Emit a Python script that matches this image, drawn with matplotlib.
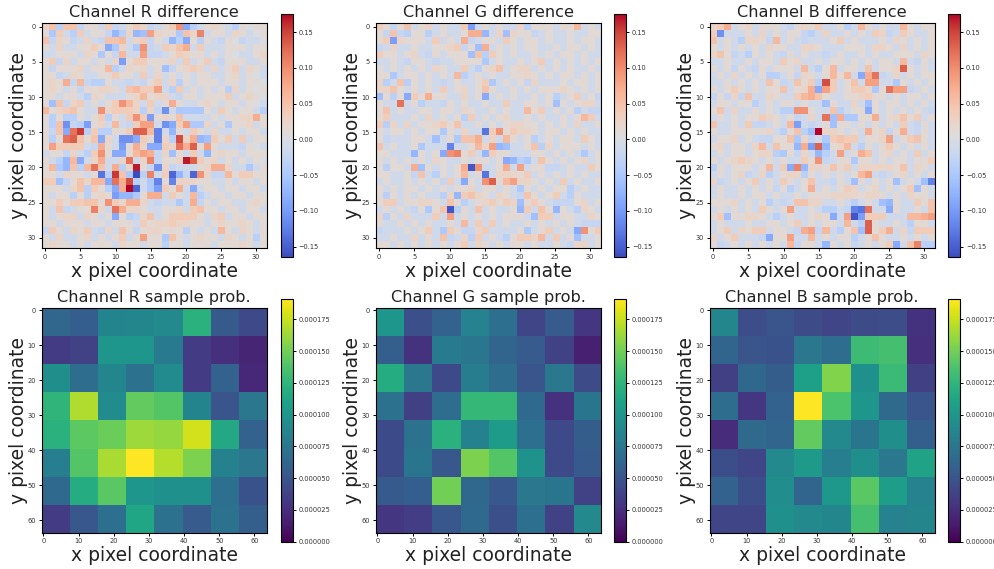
import numpy as np
import matplotlib
matplotlib.use("Agg")
import matplotlib.pyplot as plt
from matplotlib.ticker import FormatStrFormatter, MultipleLocator

# difference maps, in units of 0.012, read cell by cell
diff_r = [
    [2, 4, -3, 4, 4, -2, 1, 1, -1, 3, -2, -1, 1, 3, 2, -2, -1, 1, 3, 8, -7, -3, -1, 1, 2, 1, -1, -3, 1, 0, 1, 1],
    [1, -4, 3, -1, -3, 3, -1, 1, 1, -2, -6, -3, 2, -6, -5, 7, 2, 1, 1, -4, 4, 2, 9, -1, 1, 1, -1, 2, 1, -1, 0, 1],
    [4, -2, 2, 1, -2, -1, 2, -1, -2, 4, 4, 5, -1, 2, 3, -2, 1, -1, -6, -3, -7, 1, -3, 1, -1, -2, 1, 0, -2, -1, -1, 0],
    [1, -1, 2, -1, -1, 1, 1, 3, 1, -7, -4, 2, -1, -4, 8, -2, -1, 3, 2, 4, 6, -1, 3, -1, -1, -1, 1, 1, 1, -1, 1, 1],
    [-1, -1, 1, 1, 1, -1, 2, 1, -4, 1, -2, 5, -1, -1, 7, -2, -2, -1, 1, 3, 2, 1, 1, -1, 1, -1, 1, 0, -1, -1, 1, 2],
    [1, 3, -2, 2, -1, 1, 1, -1, 1, -1, 2, -8, 1, 3, 3, 1, 1, 1, 2, -1, 3, -1, 1, 3, -1, -2, 1, 1, 1, -1, -1, 1],
    [1, -2, 1, 1, 1, 2, -1, 1, 1, 5, -3, -1, 2, 1, 2, -1, 1, -5, -2, 1, 2, 3, 2, -1, 2, -1, 1, 3, -1, 2, 1, -1],
    [1, 1, -2, -1, 2, 1, -1, -1, 1, 1, 3, 1, 1, -1, 3, -1, 2, -1, 1, -1, 1, -1, 1, 1, -1, -1, 1, 2, -1, 1, 0, -1],
    [1, 2, 1, 6, -2, 5, -2, -3, -3, 1, -1, -1, -2, -1, -2, 1, 3, -1, 2, -3, 1, -1, 1, 1, 1, -1, 1, 1, -1, 1, 1, 0],
    [1, 2, 1, -1, 1, -2, 1, 1, 2, 2, 1, -1, 4, 5, 3, 3, 7, -1, -3, 3, -1, 1, -1, 1, -1, 1, -3, 2, -1, 1, 0, 1],
    [1, 1, -1, 1, 1, -1, -3, 2, 1, -1, -1, -1, 1, 2, 5, 1, 2, 2, -1, -2, 1, 1, -1, 1, 1, 1, 3, -1, 1, 2, 1, 0],
    [1, -5, 4, -2, 2, 3, -1, 1, -1, 1, 3, 8, 5, 2, -1, 3, -1, 1, 6, 1, -1, -1, 1, 2, 1, -1, 1, 1, -1, 1, 0, -1],
    [5, 1, 2, 3, 4, 1, -1, -1, 8, 2, 3, 3, 3, 2, -3, 2, -2, -9, -1, -4, -4, -4, -4, 1, -1, 3, 1, -1, 1, 1, -1, -3],
    [1, -3, 1, -3, -3, 1, -1, 1, 3, -3, 1, -1, 3, 8, 3, -8, 1, 2, 1, 4, -1, -1, -1, -1, 1, -1, 1, 1, 2, 2, 6, 1],
    [1, -3, 4, -9, -2, -3, -8, 1, 2, -1, 5, -1, -2, 3, 7, 7, -1, -9, -7, 3, 7, -4, -4, 2, -1, 1, -4, 1, 1, 2, -1, 1],
    [1, -2, 4, -7, 10, 13, -3, 3, -3, -3, 1, 1, 3, 11, 11, 5, -10, -1, -6, 1, -1, 3, 1, -1, 2, -1, -1, 1, -1, 1, 1, -1],
    [1, -3, 1, 10, 11, 4, 1, 4, -7, 2, -1, -9, -9, -7, 3, 1, -10, 2, -3, 12, 2, 6, -6, -5, 3, 1, 3, -1, 3, -1, 1, 1],
    [1, 7, 3, 3, 3, 3, -1, -2, 6, 1, -1, -8, 1, 6, 2, -7, -7, 3, 2, 10, 6, 11, 1, 7, 1, -1, -1, -1, -2, 1, 0, -1],
    [-1, 1, 1, -2, 2, -1, -3, 3, 8, 1, -7, -7, 1, 5, 7, 6, -2, 2, -5, 1, -1, 3, -1, -6, 1, 2, 1, 1, -1, 1, 1, 1],
    [1, -1, -3, -6, 5, -7, -1, 2, 6, -1, -1, 2, 10, -1, 2, 9, -2, 1, 1, 2, 14, 11, 3, 1, 2, -1, 1, -1, 1, -1, 1, 0],
    [1, 5, -4, -6, 4, -3, 5, 10, 4, -1, 6, -3, 2, 14, 1, -2, -9, 2, -2, -1, -1, -1, 1, 2, 6, 6, 2, -1, -1, -4, -1, 1],
    [1, 1, -1, 2, 1, 1, -1, 1, -11, -3, 13, 4, -4, -14, -3, 9, -1, 3, -12, -6, -2, -12, 8, 2, -2, -2, 5, 1, 3, 3, 1, 1],
    [3, 3, -5, -2, 1, 4, 2, 5, 5, -7, 10, 6, 12, -3, -1, -4, -10, 1, -10, 2, 2, 2, 1, 1, -1, -1, 1, -1, 1, 1, -1, 1],
    [1, 1, 1, -1, 2, 4, -3, 3, 1, -3, -7, 6, 15, -12, -1, -4, -8, 3, 1, 6, -1, -7, -1, 1, 1, -1, 1, 1, -1, 1, 1, -1],
    [1, -1, 1, 1, -3, 1, -3, 1, 2, 1, -8, -6, -6, -4, 1, 6, 6, -1, 3, 1, -1, 5, -3, -1, 1, 1, -1, 1, 1, -1, 1, 1],
    [1, 1, 3, 1, 3, 3, 4, 4, 1, 8, 3, 2, 6, 6, 2, -1, -2, -1, -1, -4, -1, 6, -2, 1, -1, 1, 1, -1, -1, 1, 2, 1],
    [1, -1, 4, -2, -1, 1, 1, 9, 2, -1, 10, 6, 2, 2, 1, -1, -1, 1, 1, 2, -1, 3, 4, 1, 1, -1, 1, 1, -1, 1, 1, -1],
    [1, -1, 1, 2, 2, -1, 2, 1, -1, 1, -7, 1, -3, -2, 2, 4, -1, 1, 3, 3, 3, 3, 1, -1, 2, 3, -1, 1, 1, -1, 1, 1],
    [1, 1, -1, 1, 1, 1, -1, 1, 1, -1, 1, 1, 1, -1, 3, 1, 2, 2, 3, 2, 2, 1, 1, -1, 1, 2, 1, 1, 2, 1, -1, 1],
    [-2, 3, 1, -1, 2, 1, 3, -1, -2, 2, -1, 4, 1, -2, 1, 2, 2, 1, 1, 1, -3, 1, -1, 1, -1, 5, 1, -1, 2, 1, -1, 1],
    [1, -1, 2, -1, -1, 1, 2, -1, 1, -1, 1, 3, -1, 1, 7, 1, 1, -4, 4, 1, -1, 1, 2, 1, 1, -1, 2, 1, -1, 1, -3, 1],
    [1, 2, 1, 1, -1, 1, -1, 1, 1, 1, -1, 2, 1, 1, -1, 1, 1, -3, 1, 1, -1, 1, 1, 1, -1, 1, 1, 1, 2, 1, -1, 1],
]
diff_g = [
    [3, 1, -2, 1, 4, -1, 1, 2, -1, 1, -1, -1, 3, -8, -1, 1, -1, 1, -1, -1, 2, -3, 1, 1, 1, -1, 1, 1, 5, -1, 1, -1],
    [1, -2, 4, -2, -3, 1, 1, -3, -1, 1, -1, -1, 1, 6, 6, -6, -1, 2, -5, 2, 1, 1, -2, -1, 1, -1, -1, 1, -1, -1, 1, 1],
    [1, 3, -8, 2, 1, 1, 1, -1, 3, -1, 1, -1, 6, -2, -1, 1, 1, -1, 3, 1, -1, 1, 1, -1, 1, -1, -1, 1, -1, 1, 1, -1],
    [-2, -1, 2, -1, -1, 1, -1, -1, 1, 1, 2, 3, -2, 1, -5, 6, -1, 1, -1, 1, -1, 1, 1, -1, -1, 1, -1, 1, 1, -1, 1, -1],
    [3, 1, 1, -1, 1, 2, -1, -2, 1, -1, 1, 1, 1, -5, 4, -3, 3, 1, -1, 1, -1, -1, 1, -1, 1, -1, 1, 1, -1, 1, -1, -1],
    [-1, -1, 1, -1, -2, 1, 1, -1, -2, -1, -1, 1, 1, 1, 1, -4, -1, 1, -1, -1, 1, -1, 1, 3, -1, 1, -1, 1, -1, 1, -1, 1],
    [1, -1, 1, -1, 1, -1, 1, -1, 2, 1, -1, -1, 3, -1, -3, 1, 2, 4, -1, 1, 2, 2, -1, 1, -1, 1, -1, 1, -1, -1, 1, -1],
    [1, 1, -4, -1, 1, 1, -1, 1, -1, 1, -1, 5, -3, -1, 1, -1, 1, -1, -1, 1, 1, 2, 1, -1, 1, -1, 1, 1, -1, 1, -1, 1],
    [2, -3, -1, 4, -3, 1, -1, 1, -1, -2, -1, 1, -1, -1, 1, 3, -4, -1, 1, -1, 1, -2, 2, -1, -1, -1, 1, -1, 1, 1, -1, 1],
    [2, 2, 4, 1, -1, 1, -1, 1, -1, 3, -1, 1, 2, -1, 1, 4, 1, -1, -1, 1, -1, 1, -1, 1, 1, 1, 2, 1, -1, 1, -1, 1],
    [-5, 1, -3, 1, -7, 3, 1, 6, 1, 1, -1, -1, 2, -1, 1, -7, -1, 1, -1, 1, -1, -1, 1, -1, 1, -3, -1, 1, 3, -1, 1, -2],
    [1, -1, -1, 10, -1, 1, -3, -1, -1, -2, 1, -1, 1, -1, -1, 1, -1, -1, 3, -1, -1, 1, 1, -1, 1, -5, 1, -1, 1, 2, 2, -1],
    [1, 4, -1, 1, -1, -1, 1, 1, -1, 1, 1, -1, 2, 1, -1, -1, 1, -1, 1, -1, -1, 5, 1, 3, -1, 1, -1, 1, -3, -1, -2, -2],
    [1, 3, -1, -1, -1, 1, -1, 2, -1, 1, -1, 1, -3, 3, -1, 1, -1, 1, 2, -1, -1, 1, -1, 1, -1, -1, 1, -1, 1, 5, 3, -1],
    [3, -3, 2, -1, 2, -1, 1, 1, 2, 3, 1, 4, -1, -1, 1, -1, 1, -1, 1, 2, 2, 1, 1, -1, 1, -1, 1, -1, 2, -1, -1, 1],
    [1, -1, 1, 1, -1, 1, -1, 1, 1, -4, 1, -1, 2, -1, -1, -11, 3, 8, 1, 3, 2, 2, 1, -1, 1, 1, -1, 1, -1, 1, -1, -1],
    [1, -2, -1, -1, -1, 1, 1, -1, -5, -1, 1, -4, 4, 4, 6, -1, 2, -1, 5, 1, -1, 1, -3, -1, 1, -1, 1, 1, -1, 3, 1, -1],
    [4, -1, 1, -1, -1, 1, -4, -1, -1, -1, -10, -1, -1, 1, 5, 2, 7, -6, -5, -1, -1, 1, 4, -3, 2, -1, 1, 1, 1, -1, 1, -1],
    [1, 1, -1, -1, -1, -6, 1, -1, 1, -7, 8, 9, 1, 3, -1, -6, 3, 1, 1, -1, -1, -1, 1, 1, -1, 1, -1, 1, -1, -4, -1, 1],
    [1, -1, 1, -1, 1, -1, 1, -1, 2, 1, -1, -1, 1, -1, 1, 1, -1, 1, -7, -6, -3, -4, -1, 4, 1, -1, 1, -1, 1, 2, -1, 1],
    [1, -3, 1, 1, -1, 6, -5, 1, -1, 1, -1, 1, 6, -13, 8, -1, -1, 1, 6, -1, 7, -1, 1, 1, -2, -2, -1, 1, -1, -1, 3, 1],
    [1, 1, -1, -1, 1, -2, 4, -1, -3, 1, -1, 1, 5, -1, 1, -11, -1, 2, 2, 2, 1, 3, -1, 1, -1, 1, -1, 1, -1, 1, -1, -1],
    [-1, 1, -1, -1, 1, -1, 1, -1, 1, -2, 3, -1, -7, 1, -1, 8, 11, 1, 5, 7, 2, 2, 1, -1, 1, -1, 3, -1, 1, -1, -1, 1],
    [1, -1, 1, -1, 1, 1, -1, 1, -1, 1, -1, 1, 1, 2, -1, 1, 1, -1, 1, -1, -4, 1, -1, 1, -1, 1, 1, -3, -1, 1, -1, -1],
    [1, -3, 1, -1, 1, -1, 1, -1, -1, -3, 2, -6, 3, 4, 2, 1, -1, 2, 1, -1, -2, 4, 1, -1, 1, 3, -1, -3, 1, -1, -1, -1],
    [1, 3, 3, -1, 1, 1, 2, 2, 1, -1, 4, 1, -3, -1, 1, 2, 3, 1, 3, 2, -5, 1, 3, 1, -1, -2, -2, -2, 1, 2, -1, 1],
    [-1, 1, -1, 1, -1, -2, 1, -4, 1, 4, -13, -3, 1, -1, 4, -1, 1, -1, -1, 1, -6, 3, -1, 4, 1, -6, 1, -1, -3, 2, 1, -1],
    [2, -3, 1, -1, 2, -1, -1, -1, 3, -1, 7, -1, 1, -1, 1, -1, 1, -1, 1, 1, 1, -1, -5, 3, 3, -1, 1, 1, -1, -1, 2, 1],
    [1, -1, -1, 1, -1, 1, -1, 1, -1, -1, 1, -1, 5, -1, 3, -1, 3, -1, 1, -1, -1, 1, -1, 1, -1, 1, -1, 1, -1, -2, -2, -2],
    [-2, -1, -1, -1, 1, -1, 1, 3, -1, -4, 3, 1, -2, -2, 2, 3, -1, -1, -1, -1, 1, -4, -1, 1, 3, -1, 1, -1, -7, 8, 1, 3],
    [-1, -1, 1, -1, -1, 2, -1, 1, -1, 4, -2, -1, 2, -3, 3, -1, 1, -1, -3, 1, 3, 3, 2, 5, -1, 3, -1, 1, -5, -1, -1, 1],
    [1, 1, -1, 1, -1, 1, -1, 1, -1, 1, -1, 1, 3, -1, 2, 1, -1, 1, -1, 1, 1, -1, 1, -1, -1, 1, -1, -2, 2, 2, -1, 1],
]
diff_b = [
    [2, 3, 6, -1, 1, 2, -1, 1, 1, 1, -1, -2, 1, 2, 1, 3, -1, -1, 1, -3, -1, 5, 1, -1, 1, -1, -1, 5, 1, -1, 1, 1],
    [3, -9, -1, -1, -1, 1, -1, 2, -1, 1, -1, 1, 1, -2, -3, -1, 2, -1, -1, 1, -1, 1, -1, 3, 2, -2, -1, 3, 1, -1, -1, 1],
    [4, -1, 1, -1, -3, 2, 2, 1, -2, 5, -1, 1, -1, -2, -1, -1, -1, 1, 3, -1, 1, -1, -1, -1, 1, -1, 2, 1, -1, 1, -1, 1],
    [1, -1, 1, -1, 1, -1, 1, -1, 2, 1, 1, -1, -1, 2, 2, 1, -1, -1, -1, 1, 1, 1, -1, 2, 2, 1, -1, 2, -1, 1, -1, 1],
    [2, 4, 1, -2, -1, -3, 1, -1, 1, -1, -2, 1, -1, 1, -1, -1, -2, -1, 1, -1, -1, 1, -1, 1, -1, -1, 1, 1, 1, -1, 2, 1],
    [-1, -1, 1, -1, -1, 1, -1, 1, 1, -1, 3, 1, 2, -1, -1, 1, -1, 1, 1, -1, 1, -1, 1, -1, 1, 1, -1, 5, -1, -2, 1, -1],
    [1, -1, 1, -2, 1, -1, -2, 1, -1, 1, 1, 1, -1, 5, -1, -3, 1, 5, -1, 1, 1, -1, 4, -1, 1, 1, 2, 11, 1, -1, 1, -1],
    [-1, 1, -1, 2, -1, 1, -1, 1, -3, -3, -1, 1, -2, 2, 1, -1, 1, 5, 1, 5, -1, -7, 6, 10, -2, -1, 2, -1, 1, -1, 1, 1],
    [-1, -1, 1, -1, 1, -1, 1, -1, 4, 1, -2, -1, 4, 1, 3, -3, 12, 3, -1, 1, 4, -1, 7, 7, -1, -1, -4, 1, -1, 1, -1, 1],
    [1, -1, 1, 3, 1, -1, 1, -1, 1, 1, 4, -1, 1, 2, 6, -7, 7, 3, -1, 1, 3, 3, 2, -4, 1, 10, 7, 7, -2, -1, 1, -1],
    [-2, 1, -2, 2, -2, 4, -1, -1, 2, 1, -1, -1, 3, 5, 6, 4, 1, -1, -1, 1, 1, 2, 3, 1, 1, -1, 1, -1, 1, 1, -1, 1],
    [-1, 1, 1, -1, 1, 1, -3, -1, 1, -1, 1, 1, -1, 1, -1, -1, -5, 1, -1, -1, 2, -1, -5, 1, -1, 1, 1, -1, 1, -1, 1, -1],
    [1, 4, -1, 2, -1, -1, 1, -1, 1, -1, -3, -3, 8, 8, 1, -1, -1, 4, -3, -1, 1, 1, -7, 1, -1, 1, -1, 1, -1, 1, -1, -2],
    [-1, 1, -1, 1, -1, 1, 1, 3, 2, 1, -1, 1, -2, -1, 2, -1, 10, -5, 6, -4, -4, 1, 1, 6, -1, 1, 2, 4, 1, 3, -1, 1],
    [4, -1, -1, 1, -1, 3, -2, -2, -1, 1, -1, 5, -8, -1, -2, -1, 1, -5, 1, 1, -1, 1, -1, 1, -1, 1, -1, 3, -1, -2, 1, -1],
    [1, -1, -1, 1, 1, 1, 1, 1, 2, -1, -3, 1, 4, -3, -5, 15, 2, 2, 1, -1, 1, -1, 6, 1, 2, -2, 1, 6, -1, -2, 1, -1],
    [-1, 1, 1, 2, -1, 1, -1, -2, -2, 1, 1, 4, -4, 2, -2, -1, -4, 3, 4, 3, 3, -1, 1, 1, 2, 7, -1, 1, 3, 4, 1, -1],
    [1, 2, -1, 1, 1, -1, 2, 5, -1, 4, 1, 1, -6, 6, -8, 11, -6, 1, 2, 5, -1, -3, 1, -1, 1, 3, 1, -1, 1, -1, 1, -1],
    [-1, 1, -1, 1, 1, -1, 1, 2, 2, -3, -4, 1, -2, 2, -1, -6, -3, -1, 7, -1, 1, 6, 4, -1, 1, 2, -1, 1, -1, 3, -1, 1],
    [1, -1, 1, 2, 3, 2, 1, -1, 1, -1, 1, -1, -1, 3, 1, 8, -2, -1, 1, 1, -4, 1, 1, -1, 1, -1, 1, 1, -1, 1, 1, 3],
    [-3, 1, -1, 1, 1, 1, -1, 1, 5, -1, 3, -7, 9, -6, 2, 2, 1, 4, 1, 3, -1, 2, 2, 2, 2, 2, 1, 4, -1, 2, 1, -1],
    [-1, 1, -1, 1, 2, -2, -1, 2, -3, -1, 1, 2, 2, -3, 1, -1, 1, -1, 1, -1, 1, 5, 7, -1, -2, -1, 1, 2, -1, 1, -1, 1],
    [2, -2, -1, 1, -1, 1, 3, -1, 1, -1, 3, 1, -1, 1, 4, -1, -1, -2, 1, -1, -5, 1, -1, 1, -1, 1, -5, -1, 1, -1, -5, -10],
    [-1, 1, -1, -1, 1, -1, 1, -1, 1, -2, 1, -3, -1, 1, 6, -1, 1, -1, 1, 3, 2, -1, 1, 2, -1, 1, -1, 1, 3, -5, 1, -1],
    [-1, 1, -1, -1, 1, -1, 1, 1, -1, 1, -1, -1, 1, -1, 1, 1, 1, 2, 2, 2, 2, 1, 2, 2, 1, -1, 1, -1, 2, 1, 1, -1],
    [1, 1, 1, 2, -1, 1, -1, 1, -3, -1, -2, -1, 4, 4, 2, 2, -1, -1, 1, -1, -3, -1, 1, -1, -5, -6, 1, -1, -1, 3, 1, 4],
    [-1, 1, -1, 1, -1, 1, -1, 3, 1, -1, 1, 7, -1, -1, 1, -1, -3, -3, -1, -2, -10, -11, 10, -1, -1, -7, 1, -1, -1, 1, -1, 4],
    [1, 3, -5, 1, 1, 2, 2, 1, -1, -3, -1, 1, -1, -1, 1, 2, 1, -7, -1, 7, -13, -8, 3, 3, 3, -1, -1, -1, 5, 5, 6, 7],
    [-1, 1, -1, -1, -1, 1, -1, -1, 1, 1, -1, 1, 3, -1, 1, -1, 1, 1, -1, 5, -1, -3, 11, 1, -1, -1, 1, -1, -3, 1, 1, -1],
    [-1, 1, 3, -1, 2, 1, 3, 3, -1, 1, 1, -1, -2, 6, 7, -2, 5, -1, -3, 1, 4, -5, 11, 1, 3, 6, -1, 2, -2, 3, 3, 3],
    [2, -1, 1, 3, -1, -1, -1, -2, -7, 1, 1, 7, -1, -1, 5, -1, 1, -1, 1, 1, -3, -1, 1, 4, 1, -1, -1, 1, -1, 1, -1, 1],
    [1, -2, -1, 1, -1, 1, -1, 1, -1, 1, -1, 5, -2, 1, 1, -1, -6, 1, -1, 1, -2, -1, 1, -1, 1, 3, -7, -1, 4, 9, -3, -3],
]

# sample probabilities, in millionths
prob_r = [
    [63, 57, 86, 88, 90, 122, 54, 42],
    [33, 38, 100, 100, 78, 34, 26, 20],
    [95, 68, 88, 72, 92, 33, 60, 22],
    [125, 168, 92, 145, 140, 86, 50, 76],
    [122, 143, 148, 163, 161, 178, 115, 60],
    [82, 140, 167, 191, 170, 153, 84, 76],
    [65, 118, 142, 100, 96, 96, 70, 48],
    [34, 52, 70, 112, 72, 55, 72, 58],
]
prob_g = [
    [100, 47, 60, 85, 70, 40, 55, 30],
    [58, 28, 78, 75, 62, 55, 37, 17],
    [118, 76, 42, 80, 68, 50, 76, 44],
    [72, 36, 68, 127, 127, 65, 27, 74],
    [43, 72, 122, 84, 105, 70, 42, 56],
    [43, 74, 52, 153, 140, 98, 42, 54],
    [54, 57, 150, 64, 52, 76, 74, 38],
    [30, 35, 52, 65, 47, 70, 38, 90],
]
prob_b = [
    [88, 45, 50, 44, 40, 44, 45, 28],
    [62, 50, 48, 76, 68, 131, 135, 26],
    [36, 64, 56, 108, 155, 96, 130, 36],
    [68, 30, 60, 191, 137, 100, 66, 50],
    [24, 66, 62, 145, 90, 74, 95, 58],
    [46, 40, 90, 103, 82, 95, 76, 110],
    [60, 46, 94, 62, 102, 142, 106, 85],
    [40, 40, 96, 90, 88, 135, 85, 87],
]

channels = ["R", "G", "B"]
W, H = 995.0, 569.0


def px_axes(fig, left, right, top, bottom):
    return fig.add_axes([left / W, 1 - bottom / H, (right - left) / W, (bottom - top) / H])


def draw(fig, data, title, cmap, vmin, vmax, extent, ticks, step, fmt, box, cbox):
    ax = px_axes(fig, *box)
    im = ax.imshow(data, cmap=cmap, vmin=vmin, vmax=vmax, extent=extent,
                   interpolation="nearest", aspect="auto")
    ax.set_xticks(ticks)
    ax.set_yticks(ticks)
    ax.tick_params(labelsize=4.8, length=2, width=0.7, pad=2, labelcolor="#333333")
    ax.set_title(title, fontsize=11.6, pad=4.8, color="#222222")
    ax.set_xlabel("x pixel coordinate", fontsize=13.5, labelpad=1.5, color="#222222")
    ax.set_ylabel("y pixel coordinate", fontsize=13.5, labelpad=0, color="#222222")
    cax = px_axes(fig, *cbox)
    cb = fig.colorbar(im, cax=cax)
    cb.ax.yaxis.set_major_locator(MultipleLocator(step))
    if fmt:
        cb.ax.yaxis.set_major_formatter(FormatStrFormatter(fmt))
    cb.ax.tick_params(labelsize=4.8, length=2, width=0.7, pad=2, labelcolor="#333333")


fig = plt.figure(figsize=(W / 100, H / 100), dpi=100)

lefts = [41.7, 375.7, 709.7]
cb_lefts = [280.7, 614.3, 948.3]

for i, d in enumerate([diff_r, diff_g, diff_b]):
    draw(fig, np.array(d) * 0.012, "Channel %s difference" % channels[i], "coolwarm",
         -0.165, 0.175, (-0.5, 31.5, 31.5, -0.5), range(0, 31, 5), 0.05, None,
         (lefts[i], lefts[i] + 225, 23.3, 248.3), (cb_lefts[i], cb_lefts[i] + 12.2, 14.3, 257.3))

for i, p in enumerate([prob_r, prob_g, prob_b]):
    draw(fig, np.array(p) * 1e-6, "Channel %s sample prob." % channels[i], "viridis",
         0, 0.000191, (-0.5, 63.5, 63.5, -0.5), range(0, 61, 10), 0.000025, "%.6f",
         (lefts[i], lefts[i] + 225, 308.3, 532.7), (cb_lefts[i], cb_lefts[i] + 12.2, 299, 541.7))

fig.savefig("out.png", dpi=100)
